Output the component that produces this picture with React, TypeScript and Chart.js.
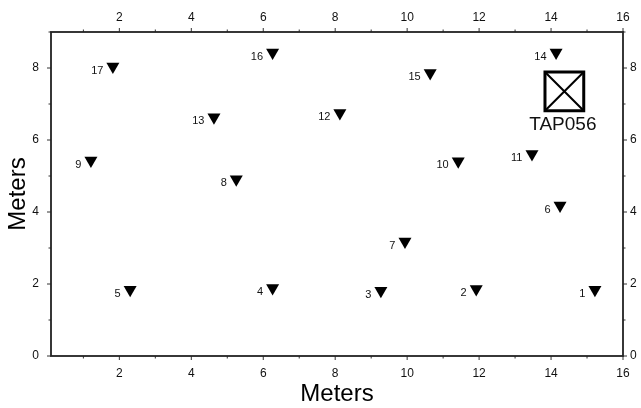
import React, { useEffect, useRef } from 'react';
import { Chart, registerables } from 'chart.js';

Chart.register(...registerables);

// Station (triangle) data
const stationLabels = ['1', '2', '3', '4', '5', '6', '7', '8', '9', '10', '11', '12', '13', '14', '15', '16', '17'];
const stationX = [15.22, 11.92, 9.27, 6.26, 2.3, 14.25, 9.94, 5.25, 1.21, 11.42, 13.47, 8.13, 4.63, 14.14, 10.64, 6.26, 1.82];
const stationY = [1.84, 1.86, 1.81, 1.89, 1.84, 4.18, 3.18, 4.91, 5.43, 5.41, 5.61, 6.75, 6.63, 8.43, 7.86, 8.43, 8.04];

// Sensor (box) data
const sensorNames = ['TAP056'];
const sensorX = [14.37];
const sensorY = [7.35];

// Axes
const xMin = 0.1;
const xMax = 16;
const yMin = 0;
const yMax = 9;
const xTickLabels = [2, 4, 6, 8, 10, 12, 14, 16];
const yTickLabels = [0, 2, 4, 6, 8];
const xTickMarks = [1, 2, 3, 4, 5, 6, 7, 8, 9, 10, 11, 12, 13, 14, 15, 16];
const yTickMarks = [0, 1, 2, 3, 4, 5, 6, 7, 8, 9];
const axisTitle = 'Meters';

const FONT = "'Liberation Sans', Arial, Helvetica, sans-serif";

const framePlugin = {
  id: 'frameTicks',
  afterDraw(chart: any) {
    const { ctx, chartArea: ca } = chart;
    const xs = chart.scales.x;
    const ys = chart.scales.y;
    ctx.save();
    ctx.strokeStyle = '#333';
    ctx.lineWidth = 1;
    ctx.beginPath();
    for (const v of xTickMarks) {
      if (v < xs.min || v > xs.max) continue;
      const px = xs.getPixelForValue(v);
      const len = v % 2 === 0 ? 4 : 2.5;
      ctx.moveTo(px, ca.bottom);
      ctx.lineTo(px, ca.bottom + len);
      ctx.moveTo(px, ca.top);
      ctx.lineTo(px, ca.top - len);
    }
    for (const v of yTickMarks) {
      if (v < ys.min || v > ys.max) continue;
      const py = ys.getPixelForValue(v);
      const len = v % 2 === 0 ? 4 : 2.5;
      ctx.moveTo(ca.left, py);
      ctx.lineTo(ca.left - len, py);
      ctx.moveTo(ca.right, py);
      ctx.lineTo(ca.right + len, py);
    }
    ctx.stroke();
    ctx.strokeStyle = '#222';
    ctx.lineWidth = 1.8;
    ctx.strokeRect(ca.left, ca.top, ca.right - ca.left, ca.bottom - ca.top);
    ctx.restore();
  },
};

const labelPlugin = {
  id: 'pointLabels',
  afterDatasetsDraw(chart: any) {
    const { ctx } = chart;
    ctx.save();
    const m0 = chart.getDatasetMeta(0);
    ctx.fillStyle = '#111';
    ctx.font = `11px ${FONT}`;
    ctx.textAlign = 'right';
    ctx.textBaseline = 'middle';
    m0.data.forEach((el: any, i: number) => {
      ctx.fillText(stationLabels[i], el.x - 9.5, el.y + 4);
    });
    const m1 = chart.getDatasetMeta(1);
    ctx.font = `19px ${FONT}`;
    ctx.textAlign = 'center';
    m1.data.forEach((el: any, i: number) => {
      ctx.fillText(sensorNames[i], el.x - 1.5, el.y + 33.5);
    });
    ctx.restore();
  },
};

export default function App() {
  const ref = useRef<HTMLCanvasElement | null>(null);

  useEffect(() => {
    if (!ref.current) return;
    const tickFont = { family: FONT, size: 12 };
    const setTicks = (vals: number[]) => (scale: any) => {
      scale.ticks = vals.map((v) => ({ value: v }));
    };
    const fitH = (h: number) => (s: any) => {
      s.height = h;
      s.paddingLeft = 0;
      s.paddingRight = 0;
      s.paddingTop = 0;
      s.paddingBottom = 0;
    };
    const fitV = (w: number) => (s: any) => {
      s.width = w;
      s.paddingLeft = 0;
      s.paddingRight = 0;
      s.paddingTop = 0;
      s.paddingBottom = 0;
    };
    const chart = new Chart(ref.current, {
      type: 'scatter',
      data: {
        datasets: [
          {
            label: 'stations',
            data: stationX.map((x, i) => ({ x, y: stationY[i] })),
            pointStyle: 'triangle',
            rotation: 180,
            pointRadius: 7.5,
            pointHoverRadius: 7.5,
            backgroundColor: '#000',
            borderColor: '#000',
            borderWidth: 0,
            xAxisID: 'x',
            yAxisID: 'y',
          },
          {
            label: 'sensor-box',
            data: sensorX.map((x, i) => ({ x, y: sensorY[i] })),
            pointStyle: 'rect',
            pointRadius: 27.4,
            pointHoverRadius: 27.4,
            backgroundColor: 'rgba(0,0,0,0)',
            borderColor: '#000',
            borderWidth: 3,
            xAxisID: 'x',
            yAxisID: 'y',
          },
          {
            label: 'sensor-cross',
            data: sensorX.map((x, i) => ({ x, y: sensorY[i] })),
            pointStyle: 'crossRot',
            pointRadius: 27.4,
            pointHoverRadius: 27.4,
            backgroundColor: 'rgba(0,0,0,0)',
            borderColor: '#000',
            borderWidth: 2,
            xAxisID: 'x',
            yAxisID: 'y',
          },
        ],
      },
      options: {
        responsive: false,
        animation: false,
        events: [],
        layout: { padding: 0, autoPadding: false },
        plugins: {
          legend: { display: false },
          tooltip: { enabled: false },
        },
        scales: {
          x: {
            type: 'linear',
            position: 'bottom',
            min: xMin,
            max: xMax,
            afterBuildTicks: setTicks(xTickLabels),
            afterFit: fitH(52),
            grid: { display: false, drawTicks: false },
            border: { display: false },
            ticks: { font: tickFont, color: '#111', padding: 10, autoSkip: false, maxRotation: 0 },
            title: { display: true, text: axisTitle, color: '#000', font: { family: FONT, size: 24, lineHeight: 1.1 }, padding: { top: 0, bottom: 0 } },
          },
          x2: {
            type: 'linear',
            position: 'top',
            min: xMin,
            max: xMax,
            afterBuildTicks: setTicks(xTickLabels),
            afterFit: fitH(32),
            grid: { display: false, drawTicks: false },
            border: { display: false },
            ticks: { font: tickFont, color: '#111', padding: 7.5, autoSkip: false, maxRotation: 0 },
          },
          y: {
            type: 'linear',
            position: 'left',
            min: yMin,
            max: yMax,
            afterBuildTicks: setTicks(yTickLabels),
            afterFit: fitV(51),
            grid: { display: false, drawTicks: false },
            border: { display: false },
            ticks: { font: tickFont, color: '#111', padding: 12, autoSkip: false },
            title: { display: true, text: axisTitle, color: '#000', font: { family: FONT, size: 24, lineHeight: 1.1 }, padding: { top: 5, bottom: 0 } },
          },
          y2: {
            type: 'linear',
            position: 'right',
            min: yMin,
            max: yMax,
            afterBuildTicks: setTicks(yTickLabels),
            afterFit: fitV(18),
            grid: { display: false, drawTicks: false },
            border: { display: false },
            ticks: { font: tickFont, color: '#111', padding: 7, autoSkip: false },
          },
        },
      } as any,
      plugins: [framePlugin, labelPlugin],
    });
    return () => chart.destroy();
  }, []);

  return (
    <div style={{ position: 'absolute', left: 0, top: 0, width: 641, height: 408, background: '#fff' }}>
      <canvas ref={ref} width={641} height={408} style={{ width: 641, height: 408 }} />
    </div>
  );
}
